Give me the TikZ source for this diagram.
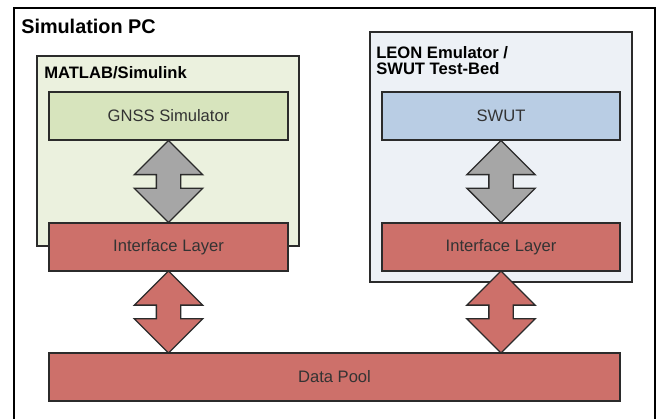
\documentclass[tikz,border=0pt]{standalone}
\usepackage{fontspec}
\setmainfont{Liberation Sans}
\usetikzlibrary{positioning, calc, shapes.arrows}
\definecolor{boxline}{HTML}{2B2B2B}
\definecolor{txtgray}{HTML}{333333}
\definecolor{simfill}{HTML}{EBF1DE}
\definecolor{gnssfill}{HTML}{D7E4BD}
\definecolor{leonfill}{HTML}{EDF1F6}
\definecolor{swutfill}{HTML}{B9CDE4}
\definecolor{ifred}{HTML}{CD706A}
\definecolor{arrgray}{HTML}{A6A6A6}

\begin{document}
\begin{tikzpicture}[
  container/.style={draw=boxline, line width=1pt, fill=#1, inner sep=0pt},
  block/.style={draw=boxline, line width=1pt, fill=#1, minimum height=1.2cm,
    font=\fontsize{11.8}{14}\selectfont, text=txtgray, inner sep=0pt},
  grouptitle/.style={font=\fontsize{11.8}{12.05}\selectfont\bfseries, text=black,
    anchor=base west, align=left, inner sep=0pt},
  fatarrow/.style={double arrow, draw=boxline, line width=1pt, fill=#1, rotate=90,
    minimum height=2.05cm, minimum width=1.675cm, double arrow head extend=0.55cm,
    inner xsep=0pt, inner ysep=0.2875cm},
]

\useasboundingbox (0,0) rectangle (16.5,10.475);

% Outer frame
\node[draw=black, line width=1.4pt, fill=white, minimum width=16.025cm,
  minimum height=10.55cm, inner sep=0pt] (simpc) at (8.3625,5.0) {};
\node[font=\fontsize{14.1}{16}\selectfont\bfseries, anchor=base west, inner sep=0pt]
  (simpctitle) at (0.525,9.625) {Simulation PC};

% =============================================
% Group boxes
% =============================================
\node[container=simfill, minimum width=6.55cm, minimum height=4.75cm] (matlab) at (4.2,6.7) {};
\node[grouptitle] (matlabtitle) at (1.1,8.5125) {MATLAB/Simulink};

\node[container=leonfill, minimum width=6.55cm, minimum height=6.25cm] (leon) at (12.525,6.55) {};
\node[grouptitle] (leontitle) at (9.4,8.6) {LEON Emulator /\\SWUT Test-Bed};

% =============================================
% Blocks
% =============================================
\node[block=gnssfill, minimum width=5.975cm] (gnss) at (4.2125,7.575) {GNSS Simulator};
\node[block=ifred, minimum width=5.975cm] (ifleft) at (4.2125,4.3) {Interface Layer};

\node[block=swutfill, minimum width=5.95cm] (swut) at (12.525,7.575) {SWUT};
\node[block=ifred, minimum width=5.95cm] (ifright) at (12.525,4.3) {Interface Layer};

\node[block=ifred, minimum width=14.275cm] (pool) at (8.3625,1.05) {Data Pool};

% =============================================
% Fat arrows
% =============================================
\node[fatarrow=arrgray] (gnssarr) at ($(gnss.south)!0.5!(ifleft.north)$) {};
\node[fatarrow=arrgray] (swutarr) at ($(swut.south)!0.5!(ifright.north)$) {};
\node[fatarrow=ifred] (leftarr) at ($(ifleft.south)!0.5!(ifleft.south |- pool.north)$) {};
\node[fatarrow=ifred] (rightarr) at ($(ifright.south)!0.5!(ifright.south |- pool.north)$) {};

\end{tikzpicture}
\end{document}
